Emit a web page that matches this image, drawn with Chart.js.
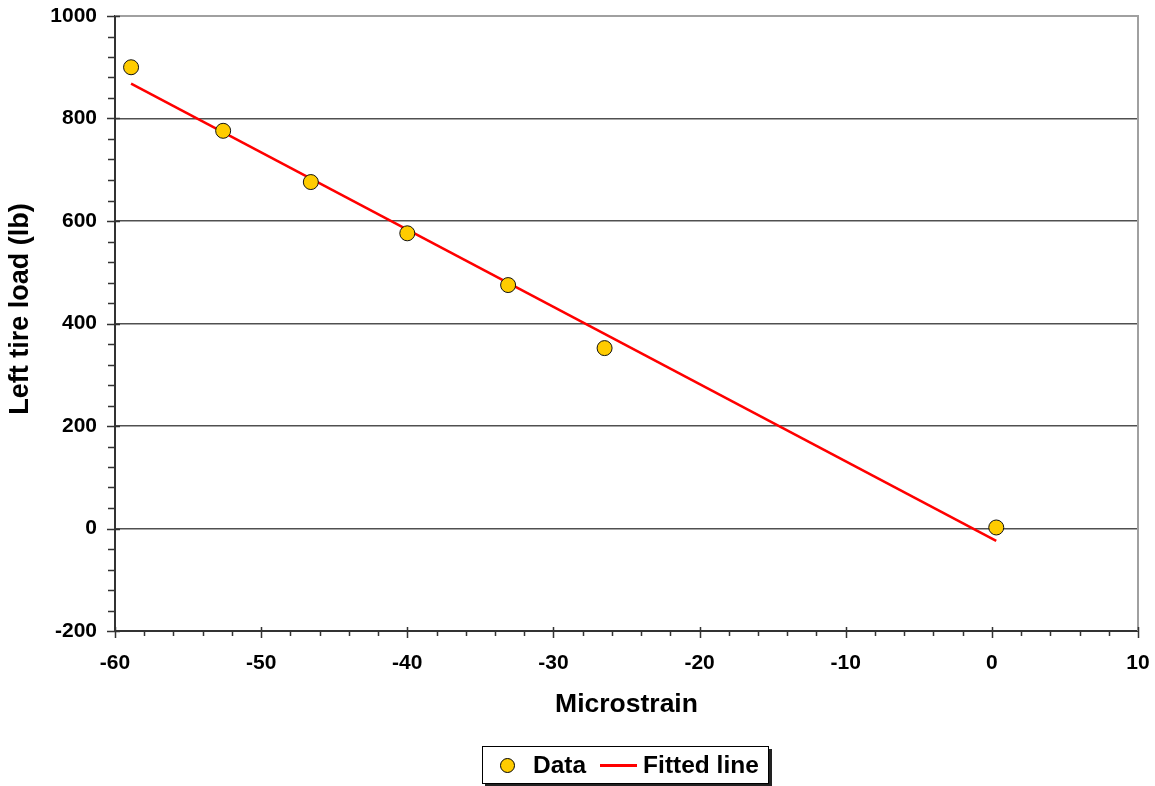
<!DOCTYPE html>
<html>
<head>
<meta charset="utf-8">
<script src="https://cdn.jsdelivr.net/npm/chart.js@4"></script>
<style>
  html, body { margin: 0; padding: 0; background: #fff; }
  #wrap { position: relative; width: 1155px; height: 786px; }
  #legend {
    position: absolute; left: 482px; top: 746px; width: 285px; height: 36px;
    border: 1px solid #000; box-shadow: 3px 3px 0 #222; background: #fff;
    font: bold 24.5px "Liberation Sans", Arial, sans-serif; color: #000;
    display: flex; align-items: center; box-sizing: content-box;
  }
  #legend .item { display: flex; align-items: center; }
  #legend .dot {
    width: 13px; height: 13px; border-radius: 50%; background: #ffcc00;
    border: 1px solid #000; margin: 0 18px 0 17px;
  }
  #legend .ln { width: 37px; height: 3px; background: #ff0000; margin: 0 6px 0 14px; }
</style>
</head>
<body>
<div id="wrap">
  <canvas id="loadChart" width="1155" height="786"></canvas>
  <div id="legend"></div>
</div>
<script>
// calibration points: strain vs. measured load
const strain = [-58.9, -52.6, -46.6, -40.0, -33.1, -26.5, 0.3];
const load = [900, 776, 676, 576, 475, 352, 2];

// end points of the fitted line
const fitStrain = [-58.9, 0.3];
const fitLoad = [868, -24];

const xTicks = [-60, -50, -40, -30, -20, -10, 0, 10];
const yTicks = [-200, 0, 200, 400, 600, 800, 1000];

const FONT = '"Liberation Sans", Arial, sans-serif';

const pts = strain.map((x, i) => ({ x: x, y: load[i] }));
const fit = fitStrain.map((x, i) => ({ x: x, y: fitLoad[i] }));

// tick marks, plot frame and rotated y title
const frame = {
  id: 'frame',
  afterDraw(chart) {
    const c = chart.ctx;
    const a = chart.chartArea;
    const xs = chart.scales.x, ys = chart.scales.y;
    c.save();
    c.strokeStyle = '#a0a0a0';
    c.lineWidth = 2;
    c.beginPath();
    c.moveTo(a.left, a.top);
    c.lineTo(a.right, a.top);
    c.lineTo(a.right, a.bottom);
    c.stroke();

    c.strokeStyle = '#333';
    c.lineWidth = 1.5;
    c.beginPath();
    xs.ticks.forEach(t => {
      const px = Math.round(xs.getPixelForValue(t.value)) + 0.5;
      const major = xTicks.includes(t.value);
      c.moveTo(px, a.bottom - (major ? 4 : 0));
      c.lineTo(px, a.bottom + (major ? 7 : 5));
    });
    ys.ticks.forEach(t => {
      const py = Math.round(ys.getPixelForValue(t.value)) + 0.5;
      const major = yTicks.includes(t.value);
      c.moveTo(a.left - (major ? 8 : 7), py);
      c.lineTo(a.left + (major ? 5 : 0), py);
    });
    c.stroke();

    c.translate(21, 309);
    c.rotate(-Math.PI / 2);
    c.fillStyle = '#000';
    c.font = 'bold 27px ' + FONT;
    c.textAlign = 'center';
    c.textBaseline = 'middle';
    c.fillText('Left tire load (lb)', 0, 0);
    c.restore();
  }
};

const chart = new Chart(document.getElementById('loadChart').getContext('2d'), {
  type: 'scatter',
  data: {
    datasets: [{
      label: 'Data',
      data: pts,
      backgroundColor: '#ffcc00',
      borderColor: '#111',
      borderWidth: 1,
      pointRadius: 7.5,
      order: 0
    }, {
      label: 'Fitted line',
      type: 'line',
      data: fit,
      borderColor: '#ff0000',
      borderWidth: 2.5,
      pointRadius: 0,
      fill: false,
      order: 1
    }]
  },
  options: {
    responsive: false,
    animation: false,
    layout: { padding: { left: 0, right: 17, top: 16, bottom: 60 } },
    plugins: { legend: { display: false }, tooltip: { enabled: false } },
    scales: {
      x: {
        type: 'linear',
        min: -60, max: 10,
        afterFit(s) { s.height = 95; s.paddingLeft = 0; s.paddingRight = 0; },
        ticks: {
          stepSize: 2, autoSkip: false, maxRotation: 0, padding: 20,
          color: '#000', font: { family: FONT, size: 21, weight: 'bold' },
          callback: v => (xTicks.includes(v) ? v : '')
        },
        grid: { display: false, drawTicks: false },
        border: { display: true, color: '#333', width: 2 },
        title: {
          display: true, text: 'Microstrain', color: '#000',
          font: { family: FONT, size: 26.5, weight: 'bold' },
          padding: { top: 0, bottom: 5 }
        }
      },
      y: {
        min: -200, max: 1000,
        afterFit(s) { s.width = 115; s.paddingTop = 0; s.paddingBottom = 0; },
        ticks: {
          stepSize: 40, autoSkip: false, padding: 18,
          color: '#000', font: { family: FONT, size: 21, weight: 'bold' },
          callback: v => (yTicks.includes(v) ? v : '')
        },
        grid: {
          drawTicks: false,
          lineWidth: 1.5,
          color: ctx => {
            const v = ctx.tick.value;
            if (v === 1000) return '#a0a0a0';
            return (yTicks.includes(v) ? '#505050' : 'rgba(0,0,0,0)');
          }
        },
        border: { display: true, color: '#333', width: 2 }
      }
    }
  },
  plugins: [frame]
});

// legend built from the dataset labels
const legend = document.getElementById('legend');
chart.data.datasets.forEach((ds, i) => {
  const item = document.createElement('span');
  item.className = 'item';
  const sym = document.createElement('span');
  sym.className = i === 0 ? 'dot' : 'ln';
  const txt = document.createElement('span');
  txt.textContent = ds.label;
  item.appendChild(sym);
  item.appendChild(txt);
  legend.appendChild(item);
});
</script>
</body>
</html>
